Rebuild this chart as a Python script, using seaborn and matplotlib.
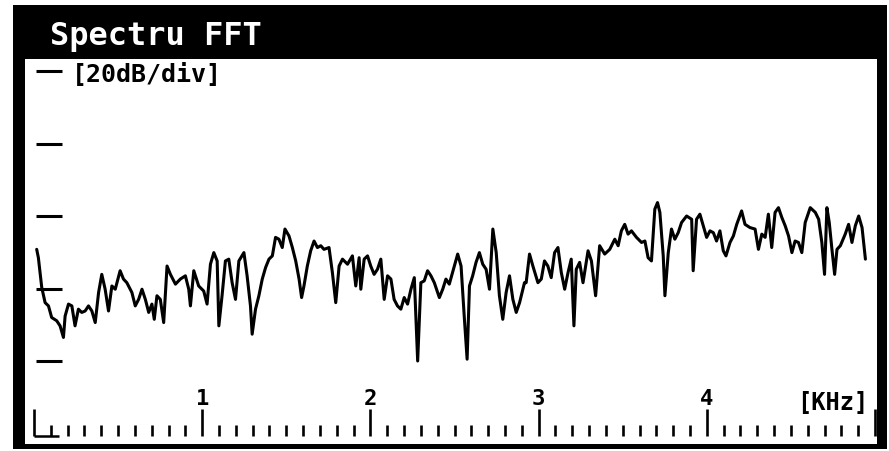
import matplotlib
matplotlib.use("Agg")
import matplotlib.pyplot as plt
from matplotlib.patches import Rectangle
from matplotlib.ticker import FixedLocator, NullFormatter
import pandas as pd
import seaborn as sns

# ---------------- data ----------------
freq_khz = [
    0.016, 0.026, 0.046, 0.066, 0.086, 0.105, 0.135, 0.155, 0.175, 0.185,
    0.205, 0.225, 0.244, 0.264, 0.284, 0.304, 0.324, 0.344, 0.364, 0.384,
    0.403, 0.423, 0.443, 0.463, 0.483, 0.512, 0.532, 0.552, 0.582, 0.602,
    0.622, 0.642, 0.662, 0.682, 0.701, 0.715, 0.731, 0.751, 0.771, 0.791,
    0.811, 0.841, 0.870, 0.900, 0.920, 0.930, 0.950,
    0.979, 1.009, 1.029, 1.049, 1.069, 1.089, 1.099, 1.118, 1.138, 1.158,
    1.178, 1.198, 1.218, 1.248, 1.267, 1.287, 1.297, 1.317, 1.337, 1.357,
    1.377, 1.397, 1.417, 1.436, 1.456, 1.476, 1.492, 1.516, 1.536, 1.556,
    1.576, 1.591, 1.605, 1.625, 1.645, 1.665, 1.685, 1.705, 1.724, 1.754,
    1.774, 1.794, 1.814, 1.834, 1.864, 1.893, 1.913, 1.933,
    1.943, 1.963, 1.983, 2.002, 2.022, 2.042, 2.062, 2.082, 2.102, 2.122,
    2.141, 2.161, 2.181, 2.201, 2.221, 2.241, 2.261, 2.281, 2.300, 2.320,
    2.340, 2.360, 2.380, 2.410, 2.430, 2.449, 2.469, 2.499, 2.519, 2.539,
    2.559, 2.575, 2.589, 2.608, 2.628, 2.648, 2.668, 2.688, 2.708, 2.728,
    2.748, 2.767, 2.787, 2.807, 2.827, 2.847, 2.867, 2.887, 2.916,
    2.926, 2.946, 2.966, 2.996, 3.016, 3.035, 3.055, 3.075, 3.095, 3.115,
    3.135, 3.155, 3.175, 3.194, 3.210, 3.224, 3.244, 3.264, 3.294, 3.314,
    3.339, 3.363, 3.393, 3.423, 3.453, 3.473, 3.492, 3.512, 3.532, 3.552,
    3.582, 3.612, 3.632, 3.651, 3.671, 3.691, 3.707, 3.721, 3.741, 3.751,
    3.771, 3.790, 3.810, 3.830, 3.850, 3.880, 3.910,
    3.919, 3.939, 3.959, 3.979, 3.999, 4.019, 4.039, 4.058, 4.078, 4.098,
    4.114, 4.138, 4.158, 4.178, 4.207, 4.227, 4.257, 4.287, 4.307, 4.327,
    4.347, 4.366, 4.386, 4.406, 4.426, 4.446, 4.466, 4.486, 4.506, 4.525,
    4.545, 4.565, 4.585, 4.615, 4.645, 4.665, 4.684, 4.700, 4.714, 4.728,
    4.744, 4.760, 4.774, 4.794, 4.823, 4.843, 4.863, 4.883, 4.903, 4.923,
    4.943,
]
level_db = [
    -49.2, -51.5, -59.7, -63.9, -64.8, -68.0, -68.9, -70.3, -73.5, -67.6,
    -64.3, -64.8, -70.3, -65.7, -66.6, -66.2, -64.8, -66.2, -69.4, -61.1,
    -56.1, -60.2, -66.2, -59.3, -60.2, -55.1, -57.4, -58.4, -61.1, -64.8,
    -63.0, -60.2, -63.0, -66.6, -64.3, -68.5, -62.0, -63.0, -69.4, -53.8,
    -56.1, -58.8, -57.4, -56.5, -60.2, -64.8, -55.1,
    -59.3, -60.7, -64.3, -53.3, -50.1, -52.4, -70.3, -62.0, -52.4, -51.9,
    -58.4, -63.0, -52.4, -50.1, -56.5, -64.8, -72.6, -65.7, -62.0, -57.4,
    -54.2, -51.9, -51.0, -45.9, -46.4, -48.7, -43.6, -45.5, -48.7, -52.4,
    -57.4, -62.5, -59.3, -53.8, -49.6, -46.9, -48.7, -48.2, -49.2, -48.7,
    -55.6, -63.9, -53.8, -51.9, -53.3, -51.0, -59.3, -51.5,
    -60.2, -51.9, -51.0, -53.8, -56.1, -54.7, -51.9, -63.0, -56.5, -57.4,
    -63.0, -64.8, -65.7, -62.5, -64.3, -60.2, -57.0, -80.0, -58.4, -57.9,
    -55.1, -56.5, -58.4, -62.5, -60.2, -57.4, -58.8, -53.8, -50.5, -53.8,
    -68.5, -79.5, -59.3, -56.5, -52.8, -50.1, -53.3, -54.7, -60.2, -43.6,
    -50.1, -62.0, -68.5, -61.1, -56.5, -63.0, -66.6, -63.9, -58.4,
    -58.4, -50.5, -53.8, -58.4, -57.4, -52.4, -53.8, -57.0, -50.1, -48.7,
    -55.6, -60.2, -55.6, -51.9, -70.3, -54.7, -52.8, -58.4, -49.6, -52.4,
    -62.0, -48.2, -50.5, -49.2, -46.4, -48.2, -44.1, -42.3, -45.0, -44.1,
    -45.9, -47.3, -46.9, -51.5, -52.4, -38.1, -36.3, -39.0, -51.0, -62.0,
    -50.1, -43.6, -46.4, -44.6, -41.8, -40.0, -40.9,
    -55.1, -40.9, -39.5, -42.7, -45.9, -44.1, -44.6, -46.9, -44.1, -49.6,
    -51.0, -47.3, -45.5, -42.3, -38.6, -42.3, -43.2, -43.6, -49.2, -45.0,
    -45.9, -39.5, -48.7, -39.0, -37.7, -40.4, -42.7, -45.5, -50.1, -46.9,
    -47.3, -50.1, -41.8, -37.7, -39.0, -40.9, -47.3, -56.1, -37.7, -41.8,
    -49.2, -56.1, -49.2, -48.2, -45.0, -42.3, -47.3, -42.7, -40.0, -43.2,
    -51.9,
]
title_text = "Spectru FFT"
scale_text = "[20dB/div]"
unit_text = "[KHz]"
db_ticks = [0, -20, -40, -60, -80]
khz_major = [0, 1, 2, 3, 4, 5]
khz_labeled = [1, 2, 3, 4]
khz_labels = ["1", "2", "3", "4"]
khz_minor = [i / 10 for i in range(1, 50) if i % 10]
ruler_foot = [0.0, 0.15]

# ---------------- style ----------------
sns.set_style("white")
plt.rcParams["font.family"] = ["DejaVu Sans Mono", "DejaVu Sans"]

W, H = 889, 452
fig = plt.figure(figsize=(W / 100, H / 100), dpi=100)
fig.patch.set_facecolor("white")


def fx(px):
    return px / W


def fy(py):
    return 1 - py / H


# pixel mapping of the screen: x_px = 34 + 168.2*kHz ; y_px = 72 - 3.625*dB
X0, XS = 34.0, 168.2
Y0, YS = 72.0, 3.625
ax_l, ax_r, ax_t, ax_b = 25, 877, 60, 445
ax = fig.add_axes([fx(ax_l), fy(ax_b), (ax_r - ax_l) / W, (ax_b - ax_t) / H])
ax.set_facecolor("white")
ax.set_xlim((ax_l - X0) / XS, (ax_r - X0) / XS)
ax.set_ylim(-(ax_b - Y0) / YS, (Y0 - ax_t) / YS)

df = pd.DataFrame({"freq": freq_khz, "level": level_db})
sns.lineplot(data=df, x="freq", y="level", ax=ax, color="black",
             linewidth=2.2, sort=False, estimator=None)
ax.set_xlabel("")
ax.set_ylabel("")

# axis decorations: dB dashes on the left, kHz ruler at the bottom
ruler_y = -(437 - Y0) / YS
for s in ["top", "right"]:
    ax.spines[s].set_visible(False)
ax.spines["left"].set_position(("data", (36 - X0) / XS))
ax.spines["left"].set_visible(False)
ax.spines["bottom"].set_position(("data", ruler_y))
ax.spines["bottom"].set_visible(False)

ax.yaxis.set_major_locator(FixedLocator(db_ticks))
ax.yaxis.set_major_formatter(NullFormatter())
ax.tick_params(axis="y", which="major", direction="in", length=26 * 0.72,
               width=2.2, color="black", left=True, right=False)
ax.xaxis.set_major_locator(FixedLocator(khz_major))
ax.xaxis.set_minor_locator(FixedLocator(khz_minor))
ax.xaxis.set_major_formatter(NullFormatter())
ax.xaxis.set_minor_formatter(NullFormatter())
ax.tick_params(axis="x", which="major", direction="in", length=27 * 0.72,
               width=1.9, color="black", bottom=True, top=False)
ax.tick_params(axis="x", which="minor", direction="in", length=11 * 0.72,
               width=1.9, color="black", bottom=True, top=False)
ax.hlines(ruler_y, ruler_foot[0], ruler_foot[1], color="black", linewidth=1.8)

label_y = -(405 - Y0) / YS
for k, lab in zip(khz_labeled, khz_labels):
    ax.text(k, label_y, lab, ha="center", va="baseline", fontsize=16,
            fontweight="bold", color="black")

fig.text(fx(868), fy(410), unit_text, ha="right", va="baseline", fontsize=17,
         fontweight="bold", color="black")
fig.text(fx(72), fy(82), scale_text, ha="left", va="baseline", fontsize=18,
         fontweight="bold", color="black")

# frame of the instrument screen
def px_rect(x0, y0, x1, y1):
    return Rectangle((fx(x0), fy(y1)), (x1 - x0) / W, (y1 - y0) / H,
                     transform=fig.transFigure, facecolor="black",
                     edgecolor="none", zorder=5)


for r in [(13, 6, 887, 60), (13, 6, 25, 450), (877, 6, 887, 450), (13, 445, 887, 450)]:
    fig.add_artist(px_rect(*r))

fig.text(fx(50), fy(45), title_text, ha="left", va="baseline", fontsize=23,
         fontweight="bold", color="white", zorder=6)

fig.savefig("out.png", dpi=100, facecolor="white")
